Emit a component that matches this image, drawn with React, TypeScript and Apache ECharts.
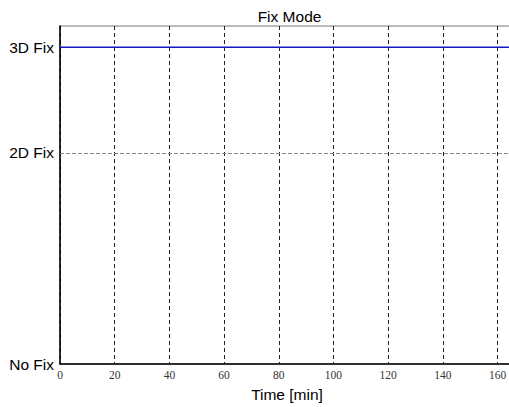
import React, { useEffect, useRef } from "react";
import * as echarts from "echarts";

const timeMin = [0, 166];
const fixMode = [3, 3];
const yTickValues = [0, 2, 3];
const yTickNames: Record<number, string> = { 0: "No Fix", 2: "2D Fix", 3: "3D Fix" };
const xTicks = [0, 20, 40, 60, 80, 100, 120, 140, 160];

export default function App() {
  const ref = useRef<HTMLDivElement>(null);
  useEffect(() => {
    if (!ref.current) return;
    const chart = echarts.init(ref.current, null, { renderer: "svg" });
    chart.setOption({
      animation: false,
      backgroundColor: "#ffffff",
      title: {
        text: "Fix Mode",
        left: 284.5,
        textAlign: "center",
        top: 3,
        textStyle: { fontFamily: "Liberation Sans, Arial", fontSize: 15.5, fontWeight: "normal", color: "#000" },
      },
      grid: { left: 60, top: 26, right: 6, bottom: 42, show: true, borderColor: "#777", borderWidth: 1, backgroundColor: "transparent" },
      xAxis: {
        type: "value",
        min: 0,
        max: 166,
        interval: 20,
        name: "Time [min]",
        nameLocation: "middle",
        nameGap: 22,
        nameTextStyle: { fontFamily: "Liberation Sans, Arial", fontSize: 15.5, color: "#000" },
        axisLine: { show: true, lineStyle: { color: "#000", width: 1.5 } },
        axisTick: { show: false },
        axisLabel: {
          showMaxLabel: false,
          fontFamily: "Liberation Serif, Times New Roman, serif",
          fontSize: 11.5,
          color: "#333",
          margin: 5,
          formatter: (v: number) => (xTicks.includes(v) ? String(v) : ""),
        },
        splitLine: { show: true, lineStyle: { color: "#222", type: [4, 3], width: 1 } },
      },
      yAxis: {
        type: "value",
        min: 0,
        max: 3.2,
        interval: 1,
        axisLine: { show: true, lineStyle: { color: "#000", width: 1.5 } },
        axisTick: { show: false },
        splitLine: { show: false },
        axisLabel: {
          fontFamily: "Liberation Sans, Arial",
          fontSize: 15.5,
          color: "#000",
          margin: 6,
          customValues: yTickValues,
          formatter: (v: number) => yTickNames[v] ?? "",
        },
      },
      series: [
        {
          type: "line",
          data: timeMin.map((t, i) => [t, fixMode[i]]),
          showSymbol: false,
          lineStyle: { color: "#1818c0", width: 1.5 },
          z: 5,
          markLine: {
            silent: true,
            symbol: "none",
            label: { show: false },
            lineStyle: { color: "#888", type: [4, 2], width: 1 },
            data: yTickValues.filter((v) => v > 0).map((v) => ({ yAxis: v })),
            z: 1,
          },
        },
      ],
    });
    return () => chart.dispose();
  }, []);
  return <div ref={ref} style={{ position: "fixed", left: 0, top: 0, width: 520, height: 407 }} />;
}
